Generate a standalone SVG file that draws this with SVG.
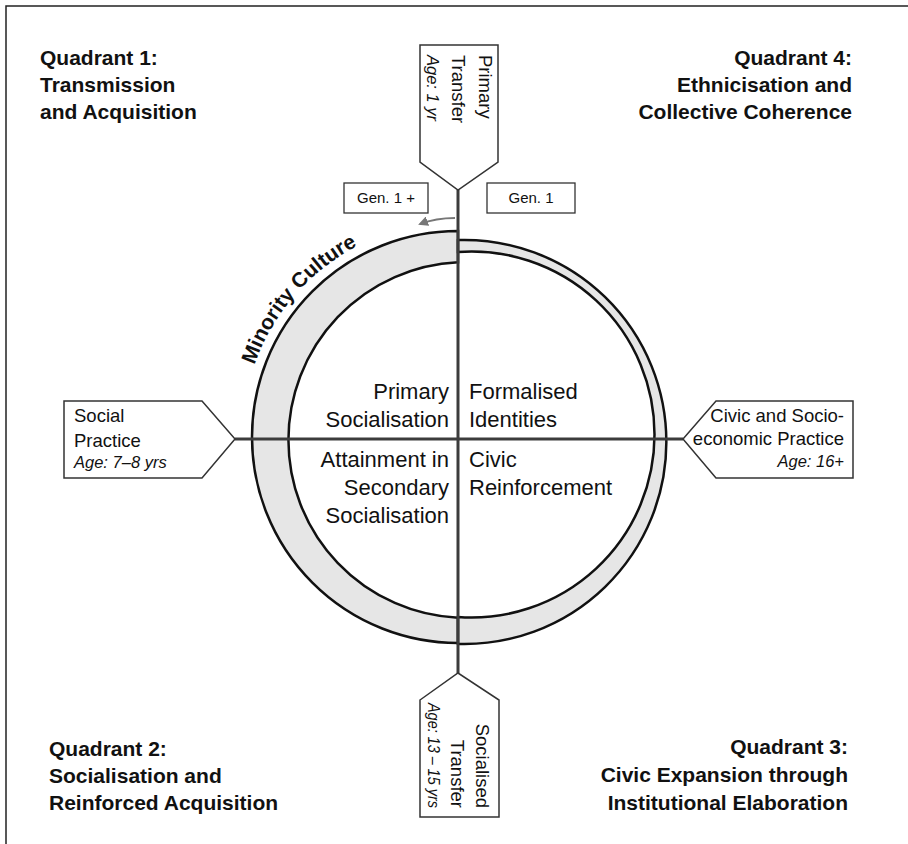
<svg xmlns="http://www.w3.org/2000/svg" width="908" height="844" viewBox="0 0 908 844">
<defs>
<style>
text{font-family:"Liberation Sans",Arial,sans-serif;fill:#111;}
.h{font-size:21px;font-weight:bold;}
.t{font-size:18.5px;}
.c{font-size:22px;}
.a{font-size:16.5px;font-style:italic;}
.g{font-size:15px;}
.pent{fill:#fff;stroke:#333;stroke-width:1.5;}
.ring{fill:#e6e6e6;stroke:#111;stroke-width:2.5;}
.axis{stroke:#3c3c3c;stroke-width:3;fill:none;}
.box{fill:#fff;stroke:#333;stroke-width:1.3;}
</style>
<marker id="ah" viewBox="0 0 10 10" refX="8" refY="5" markerWidth="5" markerHeight="5" orient="auto-start-reverse">
<path d="M0,0 L10,5 L0,10 z" fill="#777"/>
</marker>
<path id="mcArc" d="M 254.4 364.9 A 216 216 0 0 1 458 221"/>
</defs>
<rect width="908" height="844" fill="#fff"/>
<g id="frame">
<path d="M6,844 V6 H908" fill="none" stroke="#222" stroke-width="1.5"/>
</g>
<g id="ring">
<path class="ring" d="M458,231 A206,206 0 0 0 458,643 L458,617.8 A178,178 0 0 1 458,262.2 Z"/>
<path class="ring" d="M458,240.1 A202,202 0 1 1 458,643.9 L458,617 A183,183 0 1 0 458,252 Z"/>
<text class="h" font-size="14.5"><textPath href="#mcArc" startOffset="0">Minority Culture</textPath></text>
</g>
<g id="connectors">
<path class="axis" d="M458,190 V673"/>
<path class="axis" d="M235,439 H683"/>
<path d="M455,218 Q436,218 420,224" fill="none" stroke="#777" stroke-width="2" marker-end="url(#ah)"/>
</g>
<g id="q1"><text class="h" x="40" y="65">Quadrant 1:</text><text class="h" x="40" y="92">Transmission</text><text class="h" x="40" y="119">and Acquisition</text></g>
<g id="q4" text-anchor="end"><text class="h" x="852" y="65">Quadrant 4:</text><text class="h" x="852" y="92">Ethnicisation and</text><text class="h" x="852" y="119">Collective Coherence</text></g>
<g id="q2"><text class="h" x="49" y="756">Quadrant 2:</text><text class="h" x="49" y="783">Socialisation and</text><text class="h" x="49" y="810">Reinforced Acquisition</text></g>
<g id="q3" text-anchor="end"><text class="h" x="848" y="754">Quadrant 3:</text><text class="h" x="848" y="782">Civic Expansion through</text><text class="h" x="848" y="810">Institutional Elaboration</text></g>
<g id="primary-transfer">
<path class="pent" d="M420,45 H498 V162 L458,190 L420,162 Z"/>
<text class="t" transform="translate(479,55) rotate(90)">Primary</text>
<text class="t" transform="translate(452,55) rotate(90)">Transfer</text>
<text class="a" transform="translate(427,55) rotate(90)">Age: 1 yr</text>
</g>
<g id="gen1plus"><rect class="box" x="344" y="183" width="84" height="30"/><text class="g" x="386" y="203" text-anchor="middle">Gen. 1 +</text></g>
<g id="gen1"><rect class="box" x="487" y="183" width="88" height="30"/><text class="g" x="531" y="203" text-anchor="middle">Gen. 1</text></g>
<g id="social-practice">
<path class="pent" d="M64,401 H202 L235,439 L202,478 H64 Z"/>
<text class="t" x="74" y="422">Social</text>
<text class="t" x="74" y="447">Practice</text>
<text class="a" x="74" y="468">Age: 7–8 yrs</text>
</g>
<g id="civic-practice" text-anchor="end">
<path class="pent" d="M853,401 H716 L683,439 L716,478 H853 Z"/>
<text class="t" x="844" y="422">Civic and Socio-</text>
<text class="t" x="844" y="445">economic Practice</text>
<text class="a" x="844" y="467">Age: 16+</text>
</g>
<g id="socialised-transfer">
<path class="pent" d="M420,700 L458,673 L499,700 V817 H420 Z"/>
<text class="t" text-anchor="end" transform="translate(476,808) rotate(90)">Socialised</text>
<text class="t" text-anchor="end" transform="translate(451,808) rotate(90)">Transfer</text>
<text class="a" text-anchor="end" transform="translate(428,808) rotate(90)" textLength="105" lengthAdjust="spacingAndGlyphs">Age: 13 – 15 yrs</text>
</g>
<g id="centre">
<g text-anchor="end"><text class="c" x="449" y="399">Primary</text><text class="c" x="449" y="427">Socialisation</text><text class="c" x="449" y="467">Attainment in</text><text class="c" x="449" y="495">Secondary</text><text class="c" x="449" y="523">Socialisation</text></g>
<text class="c" x="469" y="399">Formalised</text><text class="c" x="469" y="427">Identities</text><text class="c" x="469" y="467">Civic</text><text class="c" x="469" y="495">Reinforcement</text>
</g>
</svg>
